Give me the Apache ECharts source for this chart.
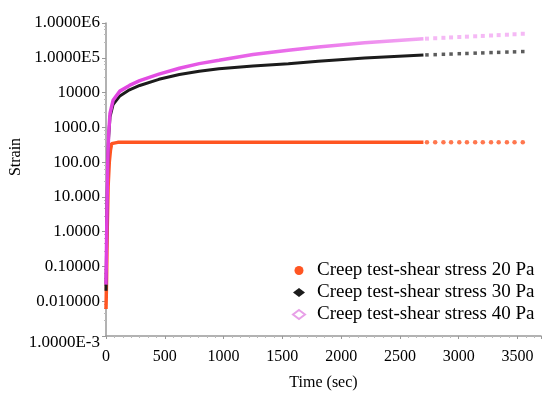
<!DOCTYPE html>
<html lang="en">
<head>
<meta charset="UTF-8">
<title>Creep test</title>
<script src="https://cdn.jsdelivr.net/npm/echarts@6.0.0/dist/echarts.min.js"></script>
<style>
    html, body { margin: 0; background: #fff; }
    #chart { width: 543px; height: 398px; }
</style>
</head>
<body>
<div id="chart"></div>
<script>
    var names = ['Creep test-shear stress 20 Pa', 'Creep test-shear stress 30 Pa', 'Creep test-shear stress 40 Pa'];
    var yTickLabels = ['1.0000E-3', '0.010000', '0.10000', '1.0000', '10.000', '100.00', '1000.0', '10000', '1.0000E5', '1.0000E6'];
    var xTicks = [0, 500, 1000, 1500, 2000, 2500, 3000, 3500];

    // dense part (drawn as a thick line)
    var t20 = [0, 2, 5, 10, 18, 28, 38, 48, 60, 100, 500, 1000, 1500, 2000, 2700];
    var s20 = [0.006, 0.013, 0.05, 1, 20, 100, 220, 340, 370, 370, 370, 370, 370, 370, 370];
    var t30 = [0, 3, 6, 10, 15, 22, 34, 60, 118, 200, 287, 450, 624, 793, 961, 1250, 1551, 1805, 2200, 2700];
    var s30 = [0.02, 0.1, 0.8, 8, 80, 500, 2000, 4500, 8000, 12000, 16000, 24000, 33000, 41000, 48000, 58000, 67000, 80000, 98000, 120000];
    var t40 = [0, 3, 6, 10, 15, 22, 34, 60, 118, 200, 287, 450, 624, 793, 961, 1250, 1551, 1805, 2200, 2700];
    var s40 = [0.03, 0.17, 1, 10, 100, 600, 2500, 6000, 11000, 16000, 22000, 34000, 50000, 68000, 85000, 125000, 165000, 205000, 270000, 350000];

    // sparse tail (separate markers)
    var tTail = [2730, 2800, 2870, 2935, 3005, 3070, 3140, 3205, 3275, 3340, 3410, 3475, 3545];
    var s20Tail = [370, 370, 370, 370, 370, 370, 370, 370, 370, 370, 370, 370, 370];
    var s30Tail = [121000, 123000, 126000, 128000, 131000, 133000, 136000, 138000, 141000, 143000, 146000, 148000, 151000];
    var s40Tail = [355000, 365000, 375000, 385000, 395000, 405000, 415000, 425000, 437000, 448000, 460000, 475000, 490000];

    var colors = ['#ff5522', '#1c1c1c', '#e24fe2'];
    var font = 'Liberation Serif';

    function zip(a, b) {
        return a.map(function (v, i) { return [v, b[i]]; });
    }

    var chart = echarts.init(document.getElementById('chart'));
    chart.setOption({
        animation: false,
        textStyle: {fontFamily: font},
        grid: {left: 106, right: 2, top: 23, bottom: 62, outerBoundsMode: 'none'},
        graphic: [{
            type: 'text',
            x: 16,
            y: 157,
            rotation: Math.PI / 2,
            style: {text: 'Strain', font: '16px "Liberation Serif"', fill: '#000', align: 'center', verticalAlign: 'middle'}
        }],
        legend: {
            orient: 'vertical',
            left: 287,
            top: 256,
            itemWidth: 12,
            itemHeight: 9,
            itemGap: 3,
            textStyle: {fontFamily: font, fontSize: 19, color: '#000', padding: [0, 0, 0, 7]},
            data: [
                {name: names[0], icon: 'circle'},
                {name: names[1], icon: 'diamond'},
                {name: names[2], icon: 'emptyDiamond', itemStyle: {color: '#e8a0e8', borderWidth: 1.5}}
            ]
        },
        xAxis: {
            type: 'value',
            min: 0,
            max: 3700,
            interval: 500,
            name: 'Time (sec)',
            nameLocation: 'middle',
            nameGap: 39,
            nameTextStyle: {fontFamily: font, fontSize: 16, color: '#000'},
            axisLine: {lineStyle: {color: '#999', width: 1.5}},
            axisTick: {show: true, length: 3, lineStyle: {color: '#999'}},
            minorTick: {show: true, splitNumber: 7, length: 2, lineStyle: {color: '#bbb'}},
            splitLine: {show: false},
            axisLabel: {
                margin: 13,
                fontFamily: font,
                fontSize: 16,
                color: '#000',
                formatter: function (v) { return xTicks.indexOf(v) >= 0 ? String(v) : ''; }
            }
        },
        yAxis: {
            type: 'log',
            logBase: 10,
            min: 0.001,
            max: 1e6,
            interval: 1,
            axisLine: {show: true, lineStyle: {color: '#999', width: 1.5}},
            axisTick: {show: true, length: 4, lineStyle: {color: '#999'}},
            minorTick: {show: true, splitNumber: 5, length: 2, lineStyle: {color: '#bbb'}},
            splitLine: {show: false},
            axisLabel: {
                margin: 6,
                fontFamily: font,
                fontSize: 17,
                color: '#000',
                formatter: function (v) {
                    var e = Math.round(Math.log10(v));
                    var label = yTickLabels[e + 3];
                    return e === -3 ? '{low|' + label + '}' : label;
                },
                rich: {low: {fontFamily: font, fontSize: 17, color: '#000', padding: [14, 0, 0, 0]}}
            }
        },
        series: [
            {
                name: names[0], type: 'line', showSymbol: false, z: 3,
                data: zip(t20, s20),
                itemStyle: {color: colors[0]},
                lineStyle: {color: colors[0], width: 3.5}
            },
            {
                name: names[1], type: 'line', showSymbol: false, z: 4,
                data: zip(t30, s30),
                itemStyle: {color: colors[1]},
                lineStyle: {color: colors[1], width: 3}
            },
            {
                name: names[2], type: 'line', showSymbol: false, z: 5,
                data: zip(t40, s40),
                itemStyle: {color: colors[2]},
                lineStyle: {
                    width: 3.5,
                    color: new echarts.graphic.LinearGradient(0, 0, 1, 0, [
                        {offset: 0, color: '#e040e0'},
                        {offset: 0.6, color: '#ea70ea'},
                        {offset: 1, color: '#f2a8f2'}
                    ])
                }
            },
            {
                name: names[0], type: 'scatter', symbol: 'circle', symbolSize: 4.5, z: 3,
                data: zip(tTail, s20Tail),
                itemStyle: {color: colors[0], opacity: 0.8}
            },
            {
                name: names[1], type: 'scatter', symbol: 'rect', symbolSize: 3.5, z: 4,
                data: zip(tTail, s30Tail),
                itemStyle: {color: '#333'}
            },
            {
                name: names[2], type: 'scatter', symbol: 'rect', symbolSize: 4, z: 5,
                data: zip(tTail, s40Tail),
                itemStyle: {color: '#f2a8f2'}
            }
        ]
    });
</script>
</body>
</html>
